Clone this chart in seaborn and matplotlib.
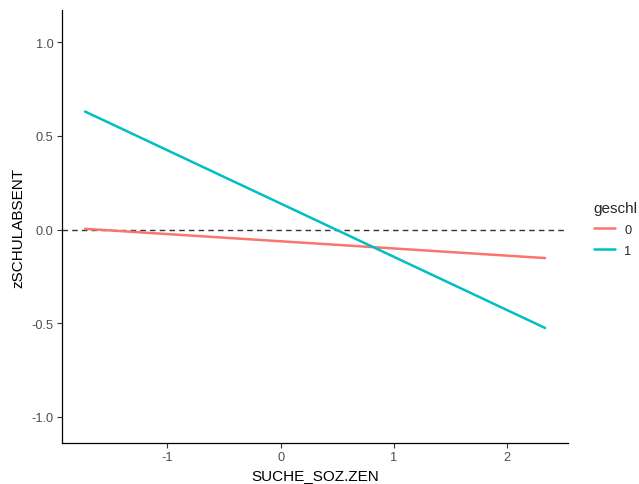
import pandas as pd
import matplotlib
matplotlib.use("Agg")
import matplotlib.pyplot as plt
import seaborn as sns

# ─── Datos ───────────────────────────────────────────────────
suche_soz_zen = [-1.727, 2.333]
zschul_g0 = [0.004, -0.152]
zschul_g1 = [0.630, -0.525]
geschl_levels = ["0", "1"]

RED = "#F8766D"
CYAN = "#00BFC4"

df = pd.DataFrame({
    "SUCHE_SOZ.ZEN": suche_soz_zen * 2,
    "zSCHULABSENT": zschul_g0 + zschul_g1,
    "geschl": [geschl_levels[0]] * 2 + [geschl_levels[1]] * 2,
})

sns.set_theme(style="ticks")
plt.rcParams["font.family"] = ["Liberation Sans", "DejaVu Sans"]
plt.rcParams["axes.unicode_minus"] = False

fig = plt.figure(figsize=(6.39, 4.85), dpi=100)
ax = fig.add_axes([0.0966, 0.0845, 0.7924, 0.8925])

ax.axhline(0, color="#333333", lw=1.0, ls=(0, (4, 3)), zorder=1)
sns.lineplot(data=df, x="SUCHE_SOZ.ZEN", y="zSCHULABSENT", hue="geschl",
             hue_order=geschl_levels, palette=[RED, CYAN], lw=1.8, ax=ax,
             zorder=2)

ax.set_xlim(-1.933, 2.536)
ax.set_ylim(-1.139, 1.171)
ax.set_xticks([-1, 0, 1, 2])
ax.set_yticks([-1.0, -0.5, 0.0, 0.5, 1.0])
ax.set_yticklabels(["-1.0", "-0.5", "0.0", "0.5", "1.0"])

for s in ["top", "right"]:
    ax.spines[s].set_visible(False)
for s in ["left", "bottom"]:
    ax.spines[s].set_color("black")
    ax.spines[s].set_linewidth(0.9)
ax.tick_params(length=3.5, width=0.8, color="#333333", labelcolor="#4D4D4D",
               labelsize=9.2, pad=2.5)
ax.set_xlabel("SUCHE_SOZ.ZEN", fontsize=11, color="black", labelpad=3)
ax.set_ylabel("zSCHULABSENT", fontsize=11, color="black", labelpad=4)

leg = ax.legend(title="geschl", loc="center left", bbox_to_anchor=(1.0, 0.495),
                frameon=False, fontsize=9.2, title_fontsize=11,
                handlelength=1.7, handletextpad=0.7, labelspacing=0.7,
                borderaxespad=1.6)
leg._legend_box.align = "left"

fig.savefig("out.png", dpi=100)
